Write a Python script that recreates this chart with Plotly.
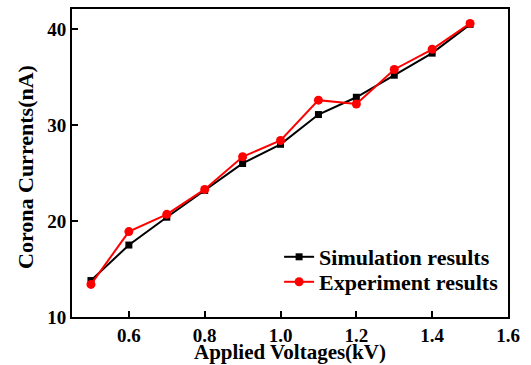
import plotly.graph_objects as go

voltages = [0.5, 0.6, 0.7, 0.8, 0.9, 1.0, 1.1, 1.2, 1.3, 1.4, 1.5]
simulation = [13.8, 17.5, 20.4, 23.2, 26.0, 28.0, 31.1, 32.9, 35.2, 37.5, 40.5]
experiment = [13.4, 18.9, 20.7, 23.3, 26.7, 28.4, 32.6, 32.2, 35.8, 37.9, 40.6]
x_ticks = [0.6, 0.8, 1.0, 1.2, 1.4, 1.6]
y_ticks = [10, 20, 30, 40]

font = "Liberation Serif"
fig = go.Figure()
fig.add_trace(go.Scatter(x=voltages, y=simulation, mode="lines+markers", name="<b>Simulation results</b>",
                         line=dict(color="black", width=2), marker=dict(symbol="square", size=7, color="black"),
                         legend="legend"))
fig.add_trace(go.Scatter(x=voltages, y=experiment, mode="lines+markers", name="<b>Experiment results</b>",
                         line=dict(color="red", width=2), marker=dict(symbol="circle", size=9, color="red"),
                         legend="legend2"))

axis_common = dict(showline=True, linecolor="black", linewidth=2, mirror=True, ticks="inside",
                   ticklen=6, tickwidth=2, tickcolor="black", showgrid=False, zeroline=False,
                   automargin=False, tickfont=dict(family=font, size=19, color="black"))
leg_common = dict(x=0.475, xanchor="left", yanchor="middle", bgcolor="rgba(0,0,0,0)",
                  font=dict(family=font, size=22, color="black"))
title_font = dict(family=font, size=21, color="black")
fig.update_layout(
    width=531, height=365, margin=dict(l=72, r=23, t=9, b=48),
    paper_bgcolor="white", plot_bgcolor="white",
    xaxis=dict(range=[0.45, 1.6], tickvals=x_ticks, ticktext=[f"<b>{v:.1f}</b>" for v in x_ticks],
               **axis_common),
    yaxis=dict(range=[10, 42.1], tickvals=y_ticks, ticktext=[f"<b>{v}</b>" for v in y_ticks],
               **axis_common),
    legend=dict(y=(317 - 257) / 308, **leg_common),
    legend2=dict(y=(317 - 282) / 308, **leg_common),
    showlegend=True,
    annotations=[
        dict(text="<b>Applied Voltages(kV)</b>", xref="paper", yref="paper", x=0.5, y=-(365 - 317) / 308,
             xanchor="center", yanchor="bottom", showarrow=False, font=title_font, borderpad=0),
        dict(text="<b>Corona Currents(nA)</b>", xref="paper", yref="paper", x=-(72 - 25) / 436, y=(317 - 167) / 308,
             xanchor="center", yanchor="middle", textangle=-90, showarrow=False,
             font=dict(family=font, size=22, color="black")),
    ],
)
fig.write_html("out.html")
